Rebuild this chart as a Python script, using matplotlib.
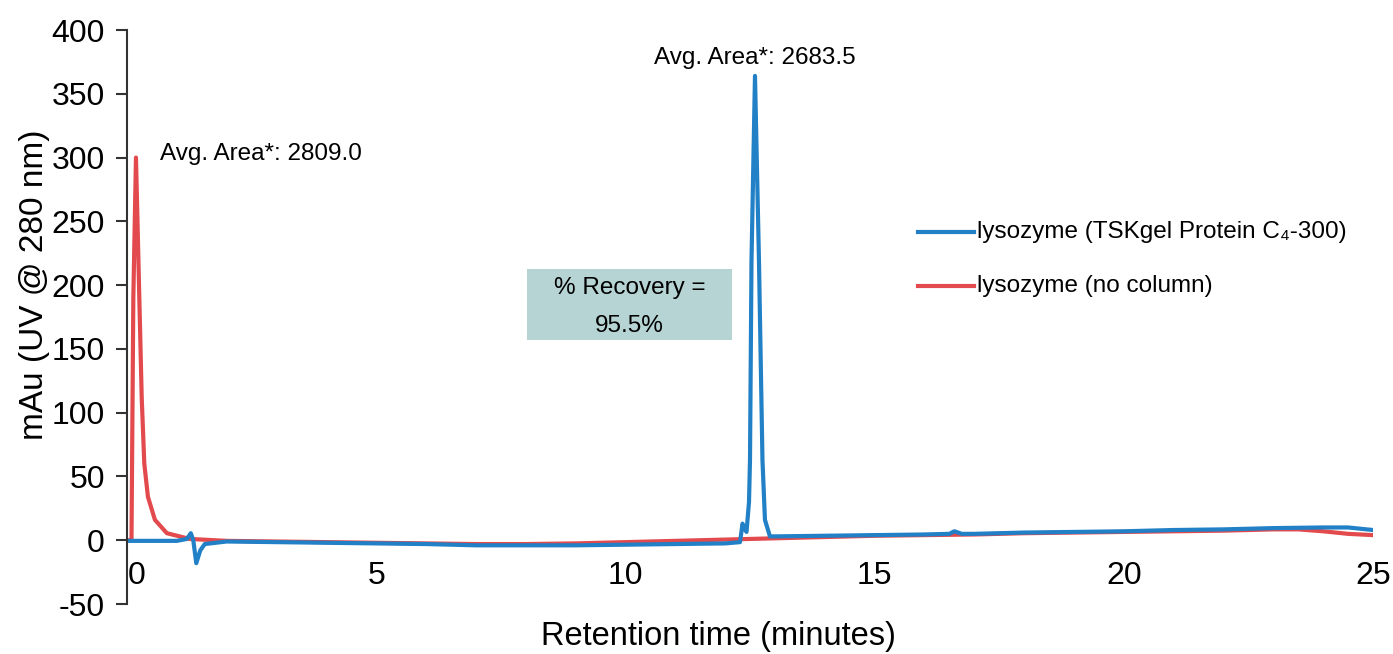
import numpy as np
import matplotlib
matplotlib.use("Agg")
import matplotlib.pyplot as plt
from matplotlib.patches import Rectangle
from matplotlib.transforms import ScaledTranslation

plt.rcParams['font.family'] = ['Liberation Sans', 'DejaVu Sans']
plt.rcParams['axes.unicode_minus'] = False

# lysozyme, no column (red)
red_t = [0.0, 0.09, 0.127, 0.18, 0.247, 0.295, 0.347, 0.42, 0.56, 0.80, 1.26,
         2.0, 3.0, 4.0, 5.0, 6.0, 7.0, 8.0, 9.0, 10.0, 11.0, 12.0, 13.0, 14.0,
         15.0, 16.0, 17.0, 18.0, 19.0, 20.0, 21.0, 22.0, 23.0, 23.5, 24.0, 24.5, 25.0]
red_v = [0.0, 0.0, 190, 300, 190, 112, 60, 34, 16, 5.5, 1.0,
         -0.5, -1.0, -1.5, -2.0, -2.5, -3.0, -3.0, -2.5, -1.5, -0.5, 0.5, 1.5, 2.5,
         3.5, 4.0, 4.5, 5.5, 6.0, 6.5, 7.0, 7.5, 8.5, 8.5, 7.0, 5.0, 4.0]

# lysozyme on TSKgel Protein C4-300 (blue)
blue_t = [0.0, 1.0, 1.2, 1.28, 1.33, 1.39, 1.47, 1.56, 2.0, 3.0, 4.0, 5.0, 6.0,
          7.0, 8.0, 9.0, 10.0, 11.0, 12.0, 12.3, 12.35, 12.39, 12.43, 12.48, 12.50,
          12.53, 12.6, 12.68, 12.75, 12.80, 12.9, 13.0, 14.0, 15.0, 16.0, 16.5,
          16.6, 16.75, 17.0, 18.0, 19.0, 20.0, 21.0, 22.0, 23.0, 24.0, 24.5, 25.0]
blue_v = [-0.5, -0.5, 1.0, 5.5, 0.0, -18, -8, -3, -1.0, -1.5, -2.0, -2.5, -3.0,
          -4.0, -4.0, -4.0, -3.5, -3.0, -2.5, -1.5, 13, 9, 6.5, 30, 63,
          219, 364, 219, 63, 16, 3.0, 3.0, 3.5, 4.0, 4.5, 5.0,
          7.0, 5.0, 5.0, 6.0, 6.5, 7.0, 8.0, 8.5, 9.5, 10.0, 10.0, 8.0]

blue_label = 'lysozyme (TSKgel Protein C\u2084-300)'
red_label = 'lysozyme (no column)'
blue_color = '#2180c6'
red_color = '#e24a4d'

fig = plt.figure(figsize=(13.93, 6.54), dpi=100)
ax = fig.add_axes([127/1393, 1 - 604/654, (1373-127)/1393, (604-30)/654])

ax.plot(red_t, red_v, color=red_color, lw=3)
ax.plot(blue_t, blue_v, color=blue_color, lw=3)

ax.set_xlim(0, 25)
ax.set_ylim(-50, 400)
ax.set_xticks([0, 5, 10, 15, 20, 25])
ax.set_yticks(np.arange(-50, 401, 50))

for s in ['top', 'right']:
    ax.spines[s].set_visible(False)
ax.spines['bottom'].set_position(('data', 0))
ax.spines['bottom'].set_visible(False)
ax.spines['left'].set_color('#333333')
ax.spines['left'].set_linewidth(1.5)
ax.tick_params(axis='x', length=0, pad=15, labelsize=23)
ax.tick_params(axis='y', length=8, width=1.5, color='#333333', labelsize=23, pad=8)
# the "0" sits just right of the y axis in the original
ax.get_xticklabels()[0].set_transform(ax.get_xticklabels()[0].get_transform()
                                      + ScaledTranslation(10/100, 0, fig.dpi_scale_trans))

fig.text(35/1393, 1 - 285/654, 'mAu (UV @ 280 nm)', rotation=90, ha='center', va='center',
         fontsize=24)
fig.text(718/1393, 1 - 637/654, 'Retention time (minutes)', ha='center', va='center', fontsize=23.5)

ax.text(0.66, 303, 'Avg. Area*: 2809.0', fontsize=17.5, ha='left', va='center')
ax.text(12.6, 378, 'Avg. Area*: 2683.5', fontsize=17.5, ha='center', va='center')

ax.add_patch(Rectangle((8.02, 156.7), 4.12, 56.3, facecolor='#b7d4d5', edgecolor='none'))
ax.text(10.08, 198, '% Recovery =', fontsize=17.5, ha='center', va='center')
ax.text(10.08, 168, '95.5%', fontsize=17.5, ha='center', va='center')

# legend drawn as lines + text
ax.plot([15.87, 17.0], [242, 242], color=blue_color, lw=3)
ax.text(17.05, 242, blue_label, fontsize=17.5, va='center', ha='left')
ax.plot([15.87, 17.0], [199, 199], color=red_color, lw=3)
ax.text(17.05, 199, red_label, fontsize=17.5, va='center', ha='left')

fig.savefig('out.png', dpi=100)
